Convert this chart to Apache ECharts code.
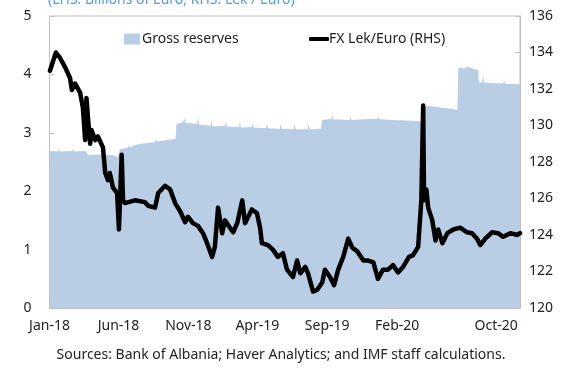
<!DOCTYPE html>
<html>
<head>
<meta charset="utf-8">
<script src="https://cdn.jsdelivr.net/npm/echarts@6/dist/echarts.min.js"></script>
<style>
  html, body { margin: 0; padding: 0; background: #fff; }
  #chart { width: 562px; height: 368px; }
</style>
</head>
<body>
<div id="chart"></div>
<script>
// Gross reserves, billions of euro (left axis)
const reserveDates = [
  '2018-01-01','2018-01-20','2018-01-22','2018-01-24','2018-02-20','2018-02-22','2018-02-24',
  '2018-03-22','2018-03-26','2018-04-20','2018-04-22','2018-04-24','2018-05-20','2018-05-30',
  '2018-06-04','2018-06-22','2018-06-24','2018-06-26','2018-07-10','2018-07-30','2018-08-20',
  '2018-08-22','2018-08-24','2018-09-20','2018-10-04','2018-10-06','2018-10-20','2018-10-23',
  '2018-10-26','2018-11-20','2018-11-22','2018-11-24','2018-12-20','2018-12-22','2018-12-24',
  '2019-01-20','2019-01-22','2019-01-24','2019-02-20','2019-02-22','2019-02-24','2019-03-20',
  '2019-03-22','2019-03-24','2019-04-20','2019-04-22','2019-04-24','2019-05-20','2019-05-22',
  '2019-05-24','2019-06-20','2019-06-22','2019-06-24','2019-07-20','2019-07-22','2019-07-24',
  '2019-08-18','2019-08-21','2019-09-10','2019-09-12','2019-09-14','2019-10-20','2019-10-22',
  '2019-10-24','2019-11-20','2019-12-20','2019-12-22','2019-12-24','2020-01-20','2020-02-20',
  '2020-03-15','2020-03-24','2020-04-02','2020-04-20','2020-05-10','2020-05-30','2020-06-12',
  '2020-06-14','2020-06-30','2020-07-02','2020-07-20','2020-07-27','2020-07-29','2020-08-05',
  '2020-08-07','2020-08-09','2020-09-01','2020-09-20','2020-09-22','2020-09-24','2020-10-27'
];
const reserveValues = [
  2.69, 2.68, 2.74, 2.68, 2.69, 2.73, 2.68,
  2.69, 2.62, 2.63, 2.66, 2.62, 2.62, 2.58,
  2.72, 2.75, 2.80, 2.75, 2.80, 2.82, 2.84,
  2.90, 2.85, 2.88, 2.90, 3.15, 3.18, 3.25,
  3.17, 3.15, 3.28, 3.14, 3.12, 3.22, 3.11,
  3.12, 3.20, 3.11, 3.10, 3.18, 3.09, 3.10,
  3.17, 3.09, 3.08, 3.16, 3.08, 3.07, 3.16,
  3.07, 3.06, 3.15, 3.06, 3.06, 3.14, 3.06,
  3.07, 3.22, 3.24, 3.30, 3.23, 3.22, 3.27,
  3.22, 3.23, 3.24, 3.28, 3.23, 3.22, 3.21,
  3.20, 3.20, 3.46, 3.45, 3.43, 3.41, 3.39,
  4.12, 4.10, 4.14, 4.09, 4.08, 3.87, 3.86,
  4.00, 3.86, 3.85, 3.85, 3.90, 3.84, 3.83
];

// Exchange rate, lek per euro (right axis)
const fxDates = [
  '2018-01-02','2018-01-15','2018-01-24','2018-02-04','2018-02-15','2018-02-19','2018-02-26',
  '2018-03-09','2018-03-15','2018-03-20','2018-03-23','2018-03-26','2018-03-31','2018-04-03',
  '2018-04-11','2018-04-17','2018-04-28','2018-05-03','2018-05-09','2018-05-13','2018-05-20',
  '2018-05-29','2018-06-02','2018-06-08','2018-06-11','2018-06-15','2018-07-07','2018-07-29',
  '2018-08-05','2018-08-20','2018-08-27','2018-09-11','2018-09-22','2018-10-03','2018-10-14',
  '2018-10-25','2018-10-31','2018-11-11','2018-11-22','2018-12-03','2018-12-12','2018-12-23',
  '2018-12-29','2019-01-05','2019-01-14','2019-01-20','2019-01-31','2019-02-07','2019-02-16',
  '2019-02-27','2019-03-05','2019-03-20','2019-03-31','2019-04-07','2019-04-11','2019-04-24',
  '2019-05-05','2019-05-16','2019-05-27','2019-06-05','2019-06-18','2019-06-27','2019-07-04',
  '2019-07-15','2019-07-21','2019-08-01','2019-08-10','2019-08-21','2019-08-27','2019-09-07',
  '2019-09-16','2019-09-25','2019-10-06','2019-10-17','2019-10-26','2019-11-06','2019-11-19',
  '2019-11-30','2019-12-11','2019-12-21','2020-01-01','2020-01-12','2020-01-23','2020-02-03',
  '2020-02-14','2020-02-27','2020-03-07','2020-03-18','2020-03-25','2020-03-29','2020-03-31',
  '2020-04-05','2020-04-09','2020-04-18','2020-04-25','2020-05-01','2020-05-10','2020-05-21',
  '2020-06-03','2020-06-18','2020-07-03','2020-07-14','2020-07-25','2020-08-01','2020-08-12',
  '2020-08-27','2020-09-09','2020-09-20','2020-10-06','2020-10-21','2020-10-27'
];
const fxValues = [
  133.0, 134.0, 133.7, 133.2, 132.6, 131.95, 132.3,
  131.8, 131.0, 129.2, 131.5, 130.5, 129.0, 129.75,
  129.2, 129.4, 128.8, 127.4, 127.0, 127.4, 126.6,
  126.3, 124.3, 128.4, 125.9, 125.75, 125.9, 125.8,
  125.6, 125.5, 126.3, 126.7, 126.5, 125.75, 125.3,
  124.7, 125.0, 124.65, 124.5, 124.1, 123.55, 122.8,
  123.35, 125.5, 124.1, 124.8, 124.4, 124.15, 124.65,
  125.9, 124.65, 125.4, 125.2, 124.4, 123.55, 123.45,
  123.2, 122.8, 123.0, 122.1, 121.7, 122.6, 121.9,
  122.25, 121.9, 120.9, 121.0, 121.4, 122.1, 121.7,
  121.25, 122.1, 122.8, 123.8, 123.3, 123.1, 122.6,
  122.6, 122.5, 121.6, 122.1, 122.1, 122.35, 121.95,
  122.25, 122.8, 122.9, 123.35, 125.9, 131.1, 125.9,
  126.5, 125.5, 124.8, 123.7, 124.3, 123.55, 124.1,
  124.3, 124.4, 124.15, 124.1, 123.8, 123.45, 123.8,
  124.15, 124.1, 123.9, 124.1, 124.0, 124.1
];

// Date axis ticks and labels
const xTickDates = ['2018-01-01','2018-06-01','2018-11-01','2019-04-01','2019-09-01','2020-02-01','2020-07-01'];
const xLabelDates = ['2018-01-01','2018-06-01','2018-11-01','2019-04-01','2019-09-01','2020-02-01','2020-10-01'];
const xLabelText = ['Jan-18','Jun-18','Nov-18','Apr-19','Sep-19','Feb-20','Oct-20'];
const xStart = '2018-01-01';
const xEnd = '2020-10-27';

function ts(s) {
  const p = s.split('-').map(Number);
  return Date.UTC(p[0], p[1] - 1, p[2]);
}

const reserveData = reserveDates.map((d, i) => [ts(d), reserveValues[i]]);
const fxData = fxDates.map((d, i) => [ts(d), fxValues[i]]);
const labelTs = xLabelDates.map(ts);

const FONT = '"Noto Sans", "Open Sans", sans-serif';
const FS = 14;
const AXIS_GREY = '#bfbfbf';
const TEXT = '#222';

const chart = echarts.init(document.getElementById('chart'), null, { renderer: 'canvas' });
chart.setOption({
  animation: false,
  backgroundColor: '#fff',
  title: {
    text: '(LHS: Billions of Euro; RHS: Lek / Euro)',
    left: 43,
    top: -12,
    textStyle: { color: '#5b9bd5', fontSize: FS, fontWeight: 'normal', fontFamily: FONT }
  },
  legend: [
    {
      data: ['Gross reserves'],
      left: 124, top: 32, padding: 0,
      itemWidth: 16, itemHeight: 11,
      icon: 'rect',
      textStyle: { color: TEXT, fontSize: FS, fontFamily: FONT, padding: [0, 0, 0, -3] }
    },
    {
      data: ['FX Lek/Euro (RHS)'],
      left: 309, top: 32, padding: 0,
      itemWidth: 20, itemHeight: 4,
      icon: 'roundRect',
      textStyle: { color: TEXT, fontSize: FS, fontFamily: FONT, padding: [0, 0, 0, -5] }
    }
  ],
  grid: {
    left: 49.5, right: 42, top: 16, bottom: 60,
    show: true, borderColor: AXIS_GREY, borderWidth: 1
  },
  xAxis: {
    type: 'value',
    min: ts(xStart),
    max: ts(xEnd),
    axisLine: { lineStyle: { color: AXIS_GREY } },
    axisTick: {
      inside: true, length: 4,
      lineStyle: { color: AXIS_GREY },
      customValues: xTickDates.map(ts)
    },
    axisLabel: {
      customValues: labelTs,
      margin: 11,
      color: TEXT, fontSize: FS, fontFamily: FONT,
      formatter: function (v) {
        const i = labelTs.indexOf(v);
        if (i < 0) return '';
        if (i === labelTs.length - 1) return '{last|' + xLabelText[i] + '}';
        return xLabelText[i];
      },
      rich: {
        last: { color: TEXT, fontSize: FS, fontFamily: FONT, padding: [0, 24, 0, 0] }
      }
    },
    splitLine: { show: false }
  },
  yAxis: [
    {
      type: 'value', min: 0, max: 5, interval: 1,
      axisLine: { show: true, lineStyle: { color: AXIS_GREY } },
      axisTick: { show: true, inside: true, length: 5, lineStyle: { color: AXIS_GREY } },
      axisLabel: { margin: 18, color: TEXT, fontSize: FS, fontFamily: FONT },
      splitLine: { show: false }
    },
    {
      type: 'value', min: 120, max: 136, interval: 2,
      axisLine: { show: true, lineStyle: { color: AXIS_GREY } },
      axisTick: { show: true, inside: true, length: 5, lineStyle: { color: AXIS_GREY } },
      axisLabel: { margin: 9, color: TEXT, fontSize: FS, fontFamily: FONT },
      splitLine: { show: false }
    }
  ],
  series: [
    {
      name: 'Gross reserves',
      type: 'line',
      yAxisIndex: 0,
      data: reserveData,
      showSymbol: false,
      symbol: 'none',
      lineStyle: { width: 0 },
      itemStyle: { color: '#b9cde5' },
      areaStyle: { color: '#b9cde5', opacity: 1 },
      z: 1
    },
    {
      name: 'FX Lek/Euro (RHS)',
      type: 'line',
      yAxisIndex: 1,
      data: fxData,
      showSymbol: false,
      symbol: 'none',
      lineStyle: { color: '#000', width: 4.5, join: 'round', cap: 'round' },
      itemStyle: { color: '#000' },
      z: 3
    }
  ],
  graphic: [
    {
      type: 'text',
      left: 'center',
      top: 348,
      style: {
        text: 'Sources: Bank of Albania; Haver Analytics; and IMF staff calculations.',
        fill: TEXT, fontSize: FS, fontFamily: FONT
      }
    }
  ]
});
</script>
</body>
</html>
